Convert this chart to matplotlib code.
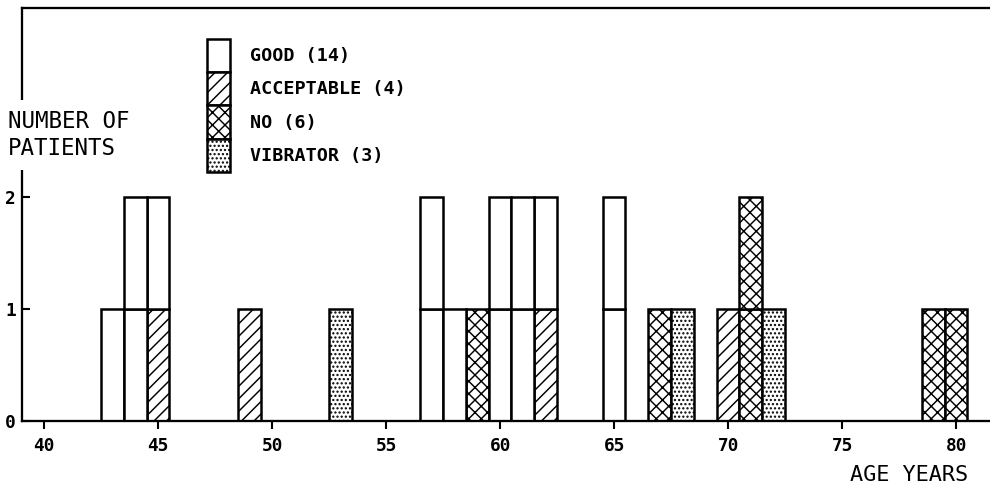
import matplotlib
matplotlib.use('Agg')
import matplotlib.pyplot as plt
from matplotlib.patches import Patch

# ---- data ----
ages       = [43, 44, 45, 49, 53, 57, 58, 59, 60, 61, 62, 65, 67, 68, 70, 71, 72, 79, 80]
good       = [ 1,  2,  1,  0,  0,  2,  1,  0,  2,  2,  1,  2,  0,  0,  0,  0,  0,  0,  0]
acceptable = [ 0,  0,  1,  1,  0,  0,  0,  0,  0,  0,  1,  0,  0,  0,  1,  0,  0,  0,  0]
no_result  = [ 0,  0,  0,  0,  0,  0,  0,  1,  0,  0,  0,  0,  1,  0,  0,  2,  0,  1,  1]
vibrator   = [ 0,  0,  0,  0,  1,  0,  0,  0,  0,  0,  0,  0,  0,  1,  0,  0,  1,  0,  0]
legend_labels = ['GOOD (14)', 'ACCEPTABLE (4)', 'NO (6)', 'VIBRATOR (3)']
xticks = [40, 45, 50, 55, 60, 65, 70, 75, 80]
yticks = [0, 1, 2]

plt.rcParams['hatch.linewidth'] = 0.7
plt.rcParams['font.family'] = ['DejaVu Sans Mono', 'DejaVu Sans']

W, H, DPI = 990, 487, 150
fig = plt.figure(figsize=(W / DPI, H / DPI), dpi=DPI)
ax = fig.add_axes([22 / W, 66 / H, 968 / W, (421 - 8) / H])

hatches = {'good': '', 'acceptable': '////', 'no': 'xxxx', 'vibrator': '......'}
# stacking order from the bottom of each column
order = [('acceptable', acceptable), ('no', no_result), ('vibrator', vibrator), ('good', good)]

base = [0] * len(ages)
for name, counts in order:
    maxc = max(counts)
    for k in range(maxc):
        xs = [a for a, c in zip(ages, counts) if c > k]
        bs = [b + k for b, c in zip(base, counts) if c > k]
        ax.bar(xs, [1] * len(xs), bottom=bs, width=1.0, align='center',
               facecolor='white', edgecolor='black', linewidth=1.2,
               hatch=hatches[name], zorder=2)
    base = [b + c for b, c in zip(base, counts)]

ax.set_xlim(39.035, 81.49)
ax.set_ylim(0, 3.68)
ax.set_xticks(xticks)
ax.set_xticklabels([str(t) for t in xticks], fontsize=8.5, fontweight='bold')
ax.set_yticks(yticks)
ax.set_yticklabels([str(t) for t in yticks], fontsize=8.5, fontweight='bold')
ax.tick_params(axis='x', direction='out', length=4, width=1.0, pad=3.5)
ax.tick_params(axis='y', direction='in', length=4, width=1.0, pad=3)

for s in ['left', 'bottom', 'top']:
    ax.spines[s].set_linewidth(1.1)
ax.spines['right'].set_visible(False)

# legend
handles = [Patch(facecolor='white', edgecolor='black', linewidth=1.2, hatch=hatches[k])
           for k in ['good', 'acceptable', 'no', 'vibrator']]
fs = 8.8
em = fs / 72 * DPI
leg = fig.legend(handles, legend_labels, loc='upper left',
                 bbox_to_anchor=(207 / W, 1 - 39 / H), bbox_transform=fig.transFigure,
                 frameon=False, borderpad=0, borderaxespad=0,
                 handlelength=23 / em, handleheight=1.3 * 34 / em, labelspacing=0,
                 handletextpad=20 / em, prop={'size': fs, 'weight': 'bold'})

# axis labels
fig.text(8 / W, 1 - 135 / H, 'NUMBER OF\nPATIENTS', fontsize=10.8, ha='left', va='center',
         linespacing=1.25,
         bbox=dict(boxstyle='square,pad=0.45', facecolor='white', edgecolor='none'), zorder=5)
fig.text(968 / W, 1 - 481 / H, 'AGE YEARS', fontsize=10.5, ha='right', va='baseline')

fig.savefig('out.png', dpi=DPI)
